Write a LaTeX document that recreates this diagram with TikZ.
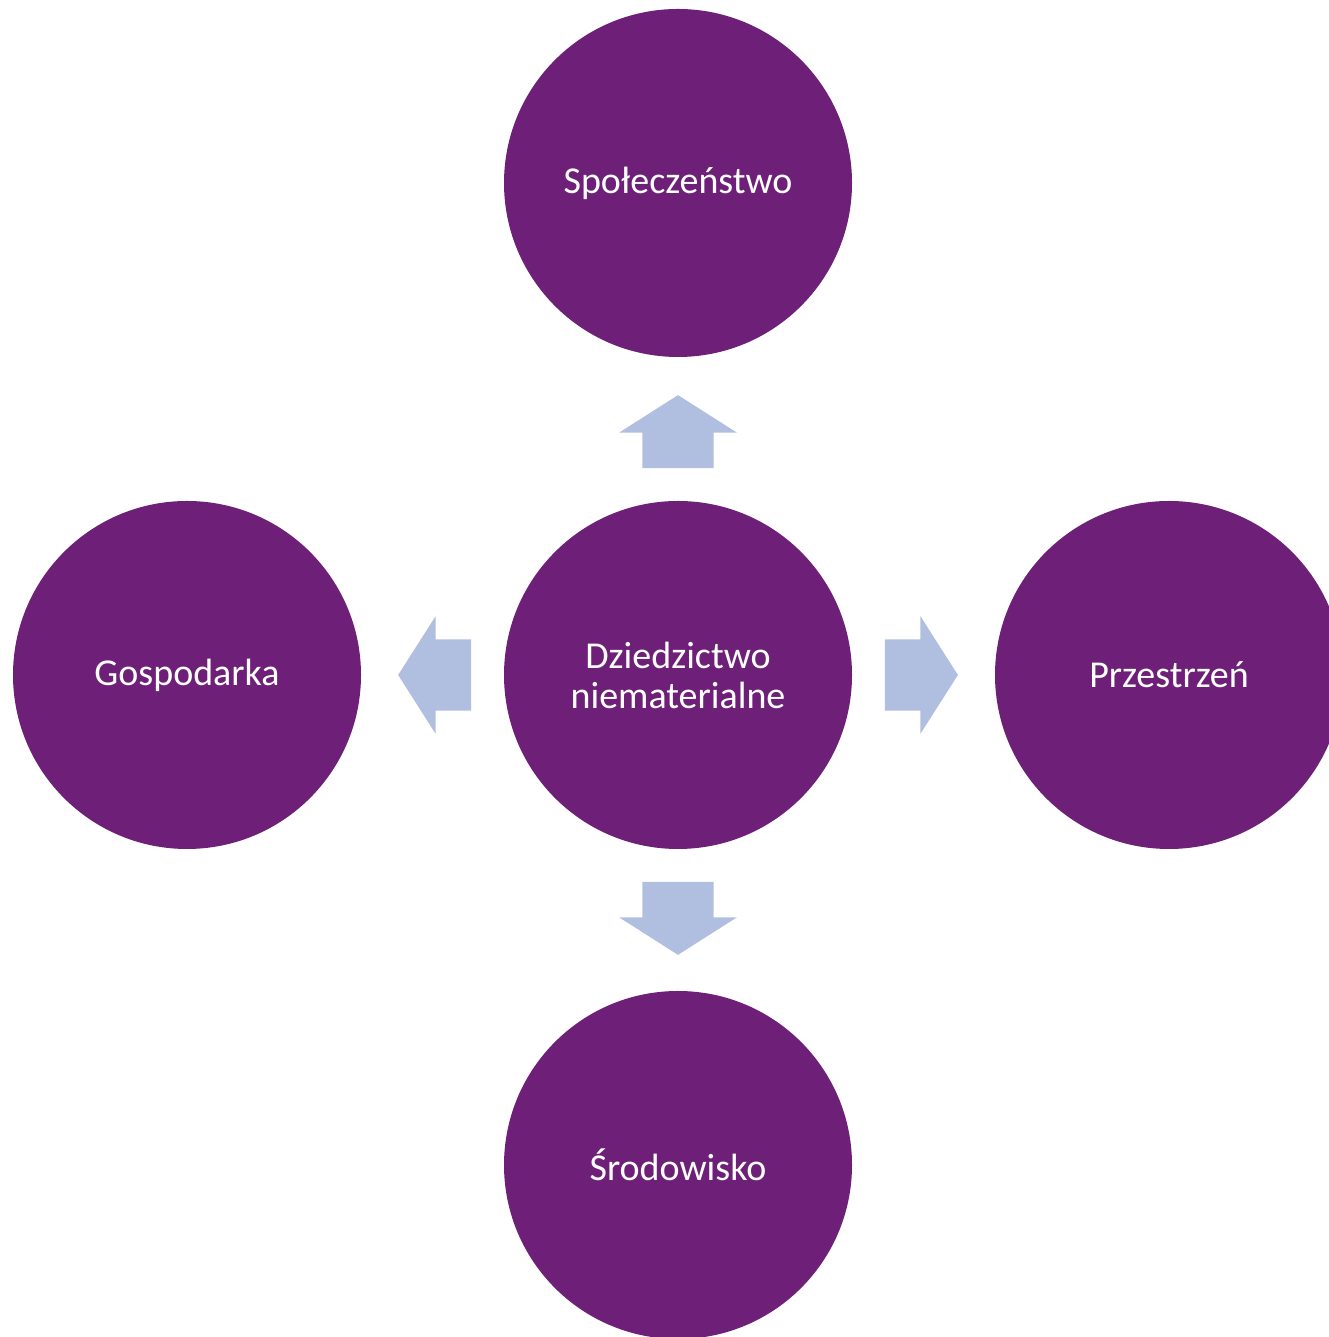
\documentclass[tikz,border=0pt]{standalone}
\usepackage{fontspec}
\setmainfont{Carlito}
\usetikzlibrary{shapes.arrows}
\definecolor{plum}{HTML}{6E1F78}
\definecolor{paleblue}{HTML}{B0BFE0}
\tikzset{
  topicnode/.style={circle, fill=plum, text=white, minimum size=348bp, inner sep=0pt,
    align=center, font=\fontsize{38bp}{40bp}\selectfont},
  blockarrow/.style={single arrow, fill=paleblue, draw=none, inner xsep=0pt, inner ysep=35.5bp,
    minimum height=73bp, single arrow head extend=23bp, single arrow tip angle=115}
}
\begin{document}
\begin{tikzpicture}[x=1bp, y=1bp]
  \useasboundingbox (0,0) rectangle (1329,1337);
  \clip (0,0) rectangle (1329,1337);
  \node[topicnode] (heritage) at (678,662) {Dziedzictwo\\niematerialne};
  \node[topicnode] (society) at (678,1154) {Społeczeństwo};
  \node[topicnode] (economy) at (187,662) {Gospodarka};
  \node[topicnode] (space) at (1169,662) {Przestrzeń};
  \node[topicnode] (environment) at (678,172) {Środowisko};
  % arrows between the centre and the outer circles
  \node[blockarrow, rotate=90] (toSociety) at (678,894) {};
  \node[blockarrow, rotate=-90] (toEnvironment) at (678,430) {};
  \node[blockarrow] (toSpace) at (910,662) {};
  \node[blockarrow, rotate=180] (toEconomy) at (446,662) {};
\end{tikzpicture}
\end{document}
